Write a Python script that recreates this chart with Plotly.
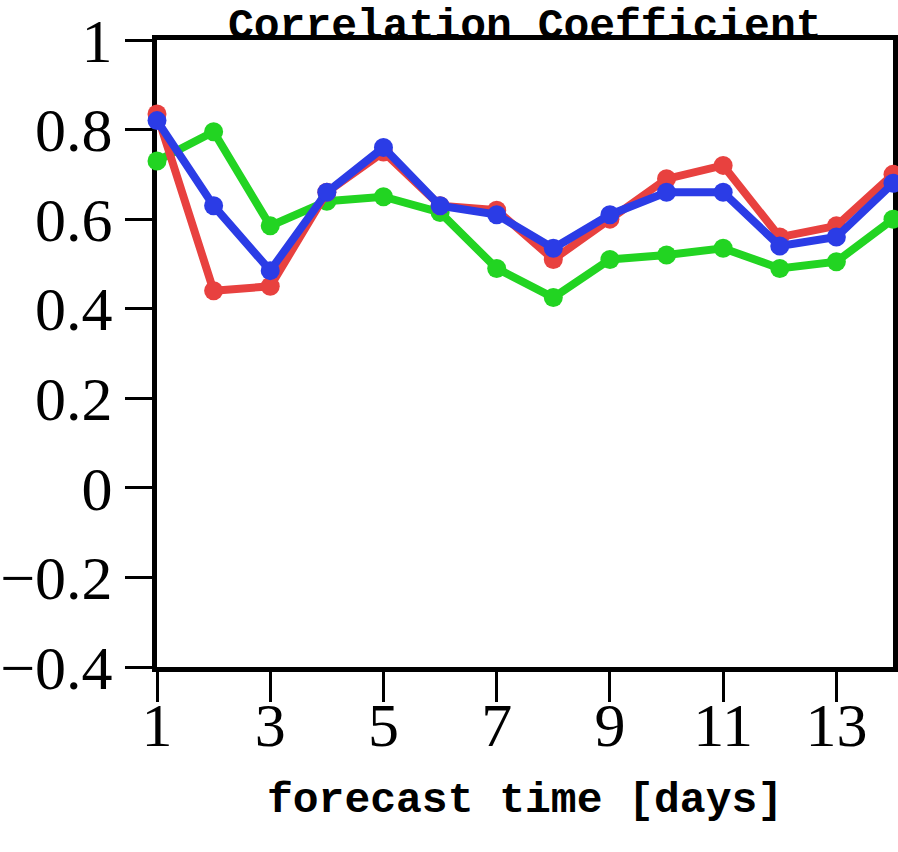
import plotly.graph_objects as go

# forecast lead time in days
days = list(range(1, 15))

# correlation coefficient per lead time for each experiment
corr_red = [0.835, 0.44, 0.45, 0.66, 0.75, 0.63, 0.62, 0.51, 0.60, 0.69, 0.72, 0.56, 0.585, 0.70]
corr_blue = [0.82, 0.63, 0.485, 0.66, 0.76, 0.63, 0.61, 0.535, 0.61, 0.66, 0.66, 0.54, 0.56, 0.68]
corr_green = [0.73, 0.795, 0.585, 0.64, 0.65, 0.615, 0.49, 0.425, 0.51, 0.52, 0.535, 0.49, 0.505, 0.60]

x_ticks = [1, 3, 5, 7, 9, 11, 13]
y_ticks = [-0.4, -0.2, 0, 0.2, 0.4, 0.6, 0.8, 1]
y_tick_text = ["\u22120.4", "\u22120.2", "0", "0.2", "0.4", "0.6", "0.8", "1"]

series = [
    ("green", corr_green, "#22d422"),
    ("red", corr_red, "#e8413f"),
    ("blue", corr_blue, "#2b3ce6"),
]

fig = go.Figure()
for name, vals, color in series:
    fig.add_trace(go.Scatter(
        x=days, y=vals, name=name, mode="lines+markers",
        line=dict(color=color, width=8),
        marker=dict(color=color, size=19),
        cliponaxis=False,
        showlegend=False,
    ))

num_font = dict(family="Liberation Serif", size=62, color="black")
label_font = dict(family="Liberation Mono", size=43, color="black")

fig.update_layout(
    width=898, height=852,
    margin=dict(l=157, r=5, t=40, b=185),
    paper_bgcolor="white", plot_bgcolor="white",
    xaxis=dict(
        range=[1, 14], tickvals=x_ticks, ticktext=[str(v) for v in x_ticks],
        showline=True, linecolor="black", linewidth=5, mirror=True,
        ticks="outside", ticklen=30, tickwidth=3, tickcolor="black",
        showgrid=False, zeroline=False, tickfont=num_font,
        ticklabelstandoff=-30, automargin=False,
        layer="below traces",
    ),
    yaxis=dict(
        range=[-0.4, 1], tickvals=y_ticks, ticktext=y_tick_text,
        showline=True, linecolor="black", linewidth=5, mirror=True,
        ticks="outside", ticklen=27, tickwidth=3, tickcolor="black",
        showgrid=False, zeroline=False, tickfont=num_font,
        automargin=False,
        layer="below traces",
    ),
    annotations=[
        dict(
            text="<b>Correlation Coefficient</b>", xref="paper", yref="paper",
            x=0.5, y=1.0, yshift=40, xanchor="center", yanchor="top",
            showarrow=False, font=label_font,
        ),
        dict(
            text="<b>forecast time [days]</b>", xref="paper", yref="paper",
            x=0.5, y=0.0, yshift=-133, xanchor="center", yanchor="middle",
            showarrow=False, font=label_font,
        ),
    ],
)

fig.write_html("out.html")
